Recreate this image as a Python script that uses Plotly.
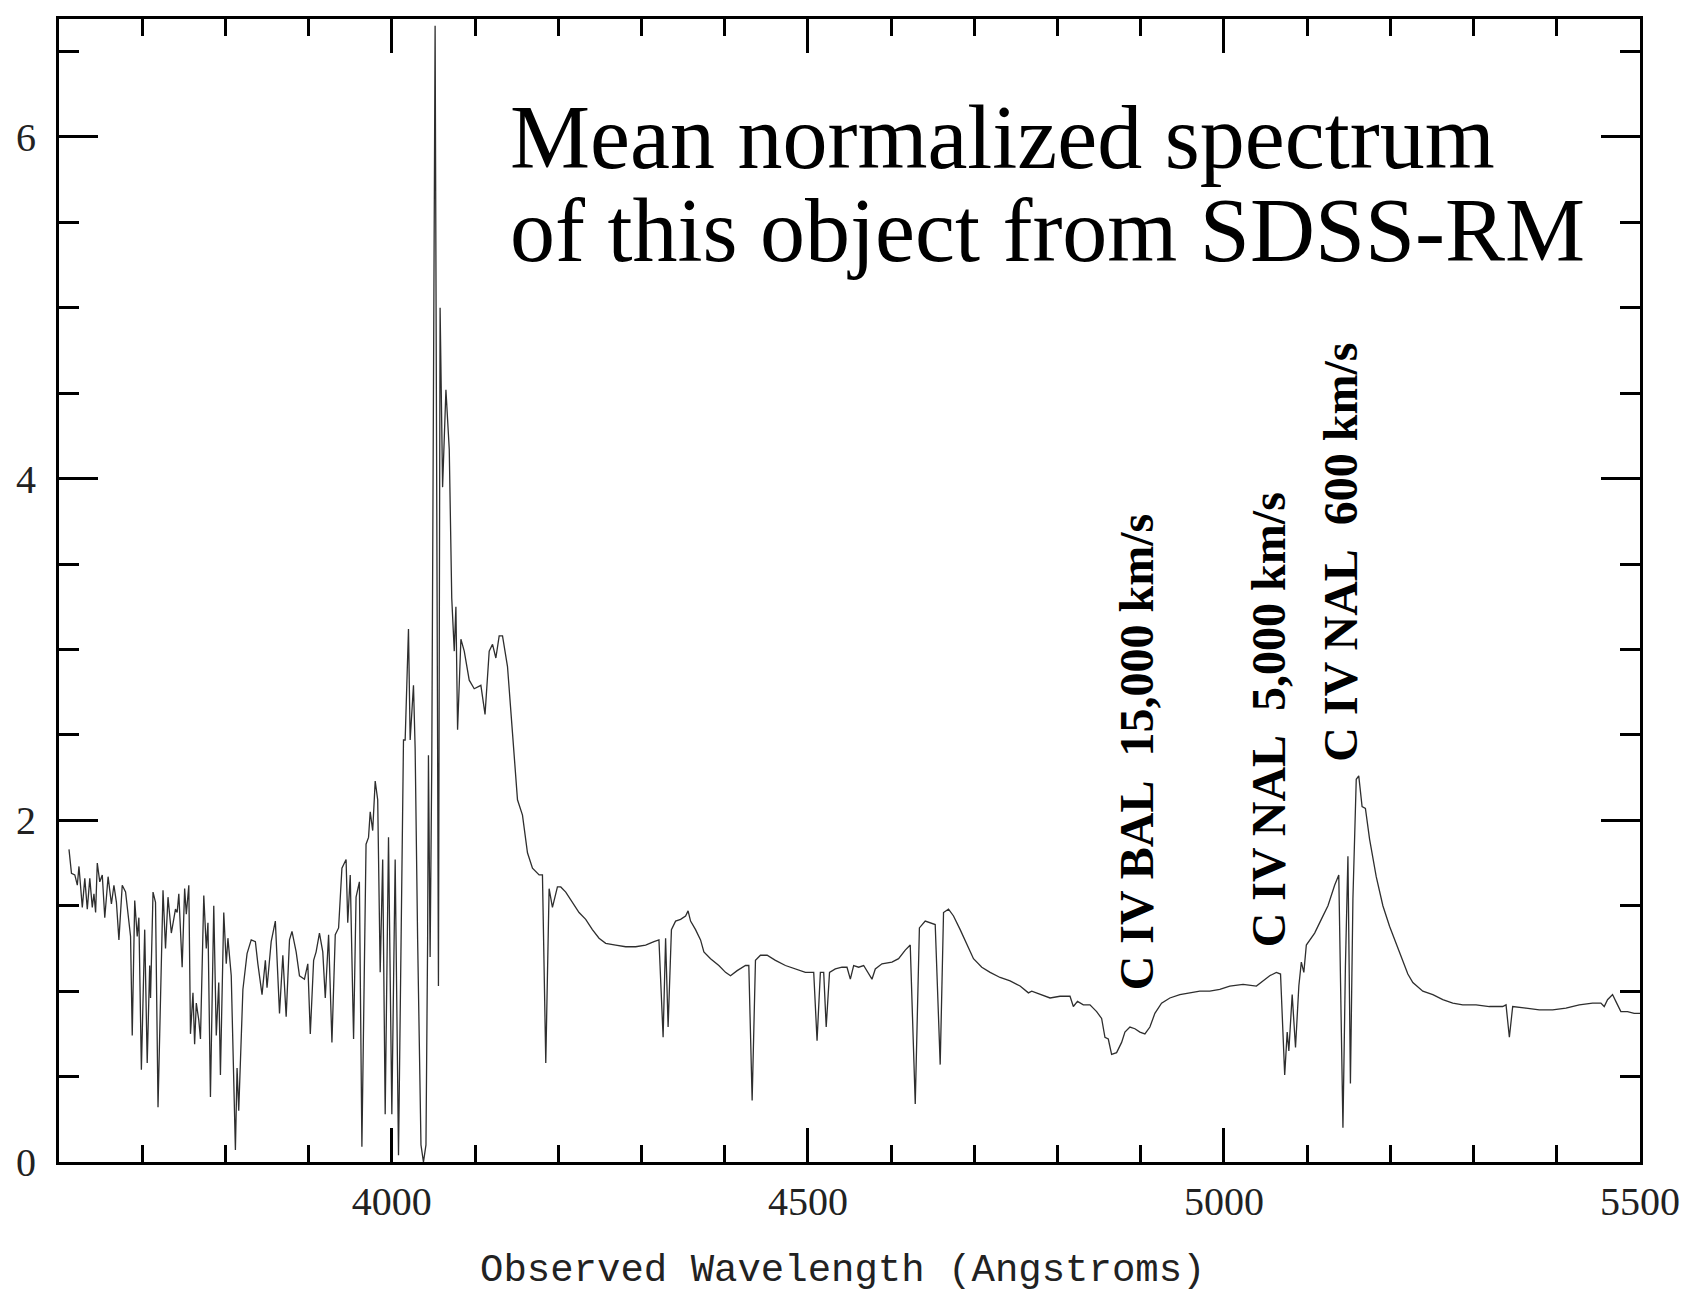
import plotly.graph_objects as go

# ---------------- data ----------------
# Lyman-alpha forest, 3612-3920 A
forest_wave = [3612, 3615, 3619, 3622, 3624, 3628, 3631, 3634, 3637, 3640, 3642, 3644, 3646, 3649,
               3652, 3655, 3659, 3663, 3666, 3669, 3672, 3676, 3680, 3683, 3686, 3688, 3691, 3694,
               3696, 3699, 3703, 3706, 3709, 3710, 3713, 3716, 3719, 3725, 3728, 3731, 3735, 3740,
               3742, 3744, 3748, 3751, 3753, 3756, 3758, 3761, 3763, 3765, 3768, 3770, 3774, 3777,
               3779, 3782, 3786, 3789, 3792, 3794, 3798, 3801, 3803, 3807, 3812, 3814, 3816, 3821,
               3826, 3831, 3836, 3839, 3844, 3848, 3850, 3855, 3860, 3865, 3869, 3873, 3877, 3880,
               3885, 3889, 3895, 3899, 3902, 3906, 3909, 3913, 3917, 3920]
forest_flux = [1.83, 1.69, 1.68, 1.62, 1.73, 1.49, 1.66, 1.48, 1.66, 1.49, 1.57, 1.46, 1.75, 1.64,
               1.68, 1.43, 1.67, 1.51, 1.62, 1.52, 1.30, 1.62, 1.58, 1.44, 1.32, 0.74, 1.53, 1.32,
               1.43, 0.54, 1.36, 0.58, 1.15, 0.96, 1.58, 1.52, 0.32, 1.59, 1.25, 1.55, 1.34, 1.48,
               1.46, 1.57, 1.14, 1.60, 1.45, 1.62, 0.75, 0.99, 0.69, 0.93, 0.83, 0.72, 1.56, 1.25,
               1.40, 0.38, 1.50, 0.74, 1.05, 0.51, 1.46, 1.16, 1.31, 1.09, 0.07, 0.55, 0.30, 1.01,
               1.22, 1.30, 1.29, 1.16, 0.98, 1.18, 1.02, 1.29, 1.41, 0.87, 1.21, 0.85, 1.30, 1.35,
               1.23, 1.09, 1.07, 1.16, 0.75, 1.18, 1.23, 1.34, 1.23, 0.96]

# Lyman-alpha / N V emission region, 3924-4177 A
lya_wave = [3924, 3928, 3932, 3936, 3940, 3945, 3947, 3950, 3954, 3957, 3961, 3964, 3969, 3972,
            3974, 3977, 3980, 3983, 3986, 3989, 3992, 3996, 4000, 4004, 4008, 4014, 4016, 4020,
            4022, 4026, 4028, 4031, 4035, 4038, 4041, 4043, 4044, 4046, 4048, 4052, 4056, 4058,
            4061, 4065, 4069, 4072, 4075, 4077, 4079, 4083, 4087, 4093, 4099, 4107, 4112, 4117,
            4121, 4125, 4129, 4133, 4139, 4145, 4151, 4157, 4163, 4169, 4177]
lya_flux = [1.33, 0.70, 1.33, 1.37, 1.72, 1.77, 1.40, 1.68, 0.72, 1.55, 1.64, 0.09, 1.86, 1.90,
            2.05, 1.94, 2.23, 2.12, 1.11, 1.77, 0.28, 1.90, 0.28, 1.77, 0.04, 2.47, 2.47, 3.12,
            2.47, 2.79, 2.42, 1.30, 0.10, 0.00, 0.10, 1.30, 2.38, 1.20, 2.34, 6.65, 1.03, 5.00,
            3.95, 4.52, 4.17, 3.30, 2.99, 3.25, 2.53, 3.06, 2.99, 2.82, 2.77, 2.79, 2.62, 2.99,
            3.03, 2.95, 3.08, 3.08, 2.90, 2.51, 2.12, 2.03, 1.81, 1.72, 1.68]

# Continuum with Si IV region, 4181-4719 A
mid_wave = [4181, 4185, 4189, 4193, 4199, 4203, 4209, 4217, 4225, 4233, 4241, 4249, 4257, 4269,
            4281, 4293, 4305, 4315, 4321, 4326, 4329, 4332, 4336, 4341, 4347, 4353, 4356, 4359,
            4365, 4371, 4375, 4383, 4393, 4401, 4407, 4415, 4425, 4429, 4433, 4437, 4443, 4451,
            4461, 4473, 4485, 4497, 4507, 4511, 4515, 4519, 4522, 4526, 4533, 4541, 4547, 4551,
            4555, 4561, 4567, 4571, 4577, 4581, 4589, 4601, 4609, 4617, 4623, 4629, 4634, 4641,
            4647, 4653, 4659, 4663, 4669, 4675, 4683, 4691, 4699, 4709, 4719]
mid_flux = [1.68, 0.58, 1.60, 1.49, 1.61, 1.61, 1.58, 1.52, 1.46, 1.42, 1.36, 1.31, 1.28, 1.27,
            1.26, 1.26, 1.27, 1.29, 1.30, 0.73, 1.31, 0.79, 1.36, 1.41, 1.42, 1.44, 1.47, 1.41,
            1.36, 1.30, 1.23, 1.19, 1.15, 1.11, 1.09, 1.12, 1.15, 1.15, 0.36, 1.18, 1.21, 1.21,
            1.18, 1.15, 1.13, 1.11, 1.11, 0.71, 1.11, 1.11, 0.79, 1.11, 1.13, 1.14, 1.14, 1.07,
            1.15, 1.14, 1.15, 1.12, 1.07, 1.13, 1.16, 1.17, 1.19, 1.24, 1.27, 0.34, 1.37, 1.41,
            1.40, 1.39, 0.57, 1.46, 1.48, 1.44, 1.36, 1.27, 1.19, 1.14, 1.11]

# C IV region with BAL / NAL troughs, 4731-5211 A
civ_wave = [4731, 4743, 4755, 4765, 4769, 4779, 4791, 4803, 4815, 4819, 4824, 4831, 4839, 4847,
            4853, 4857, 4861, 4865, 4871, 4877, 4881, 4887, 4893, 4899, 4905, 4911, 4917, 4925,
            4935, 4947, 4959, 4971, 4983, 4995, 5007, 5023, 5039, 5047, 5055, 5063, 5068, 5073,
            5076, 5078, 5082, 5086, 5090, 5093, 5096, 5099, 5109, 5117, 5125, 5133, 5138, 5143,
            5146, 5149, 5152, 5155, 5159, 5162, 5166, 5170, 5175, 5183, 5191, 5199, 5211]
civ_flux = [1.08, 1.06, 1.03, 0.99, 1.00, 0.98, 0.96, 0.97, 0.97, 0.91, 0.94, 0.92, 0.92, 0.88,
            0.84, 0.73, 0.72, 0.63, 0.64, 0.70, 0.76, 0.79, 0.78, 0.76, 0.75, 0.79, 0.87, 0.93,
            0.96, 0.98, 0.99, 1.00, 1.00, 1.01, 1.03, 1.04, 1.03, 1.06, 1.09, 1.11, 1.10, 0.51,
            0.76, 0.65, 0.98, 0.67, 1.03, 1.17, 1.11, 1.27, 1.34, 1.42, 1.50, 1.62, 1.68, 0.20,
            1.15, 1.79, 0.46, 1.54, 2.24, 2.26, 2.08, 2.07, 1.89, 1.67, 1.50, 1.38, 1.23]

# Red continuum, 5221-5500 A
red_wave = [5221, 5227, 5239, 5251, 5263, 5275, 5287, 5303, 5319, 5335, 5339, 5343, 5347, 5363,
            5379, 5395, 5411, 5427, 5443, 5453, 5457, 5461, 5467, 5472, 5477, 5485, 5493, 5500]
red_flux = [1.10, 1.05, 1.00, 0.98, 0.95, 0.93, 0.92, 0.92, 0.91, 0.91, 0.92, 0.73, 0.91, 0.90,
            0.89, 0.89, 0.90, 0.92, 0.93, 0.93, 0.91, 0.95, 0.98, 0.93, 0.88, 0.88, 0.87, 0.87]

x_tick_values = [4000, 4500, 5000, 5500]
x_tick_labels = ["4000", "4500", "5000", "5500"]
y_tick_values = [0, 2, 4, 6]
y_tick_labels = ["0", "2", "4", "6"]

line_labels = ["C IV BAL\u00a0\u00a015,000 km/s", "C IV NAL\u00a0\u00a05,000 km/s", "C IV NAL\u00a0\u00a0600 km/s"]
line_label_wave = [4896, 5054, 5139]
line_label_flux = [2.40, 2.59, 3.57]

title_lines = ["Mean normalized spectrum", "of this object from SDSS-RM"]
x_title = "Observed Wavelength (Angstroms)"

# ---------------- figure ----------------
wave = forest_wave + lya_wave + mid_wave + civ_wave + red_wave
flux = forest_flux + lya_flux + mid_flux + civ_flux + red_flux
assert len(wave) == len(flux)

fig = go.Figure()
fig.add_trace(go.Scatter(x=wave, y=flux, mode="lines",
                         line=dict(color="#2e2e2e", width=1.3), showlegend=False))

tick_font = dict(family="Liberation Serif", size=40, color="#222222")

fig.update_xaxes(range=[3600, 5500], automargin=False, showline=True, linewidth=3, linecolor="black",
                 mirror="allticks", ticks="inside", tickvals=x_tick_values, ticktext=x_tick_labels,
                 ticklen=34, tickwidth=2.5, tickcolor="black", tickfont=tick_font, ticklabelstandoff=2,
                 showgrid=False, zeroline=False,
                 minor=dict(dtick=100, tick0=3600, ticks="inside", ticklen=17, tickwidth=2.5, tickcolor="black",
                            showgrid=False))
fig.update_yaxes(range=[0, 6.69], automargin=False, showline=True, linewidth=3, linecolor="black",
                 mirror="allticks", ticks="inside", tickvals=y_tick_values, ticktext=y_tick_labels,
                 ticklen=39, tickwidth=2.5, tickcolor="black", tickfont=tick_font, ticklabelstandoff=12,
                 showgrid=False, zeroline=False,
                 minor=dict(dtick=0.5, tick0=0, ticks="inside", ticklen=20, tickwidth=2.5, tickcolor="black",
                            showgrid=False))

for txt, xw, yf in zip(line_labels, line_label_wave, line_label_flux):
    fig.add_annotation(x=xw, y=yf, xref="x", yref="y", text="<b>" + txt + "</b>", textangle=-90,
                       showarrow=False, xanchor="center", yanchor="middle",
                       font=dict(family="Liberation Serif", size=48, color="black"))

title_y = [0.896, 0.815]
for txt, ty in zip(title_lines, title_y):
    fig.add_annotation(x=0.2838, y=ty, xref="paper", yref="paper", text=txt, showarrow=False,
                       xanchor="left", yanchor="middle",
                       font=dict(family="Liberation Serif", size=90, color="black"))

fig.add_annotation(x=0.4956, y=-0.095, xref="paper", yref="paper", text=x_title, showarrow=False,
                   xanchor="center", yanchor="middle",
                   font=dict(family="Liberation Mono", size=39, color="#222222"))

fig.update_layout(width=1692, height=1293, margin=dict(l=59, r=52, t=19, b=131),
                  paper_bgcolor="white", plot_bgcolor="white")

fig.write_html("out.html")
